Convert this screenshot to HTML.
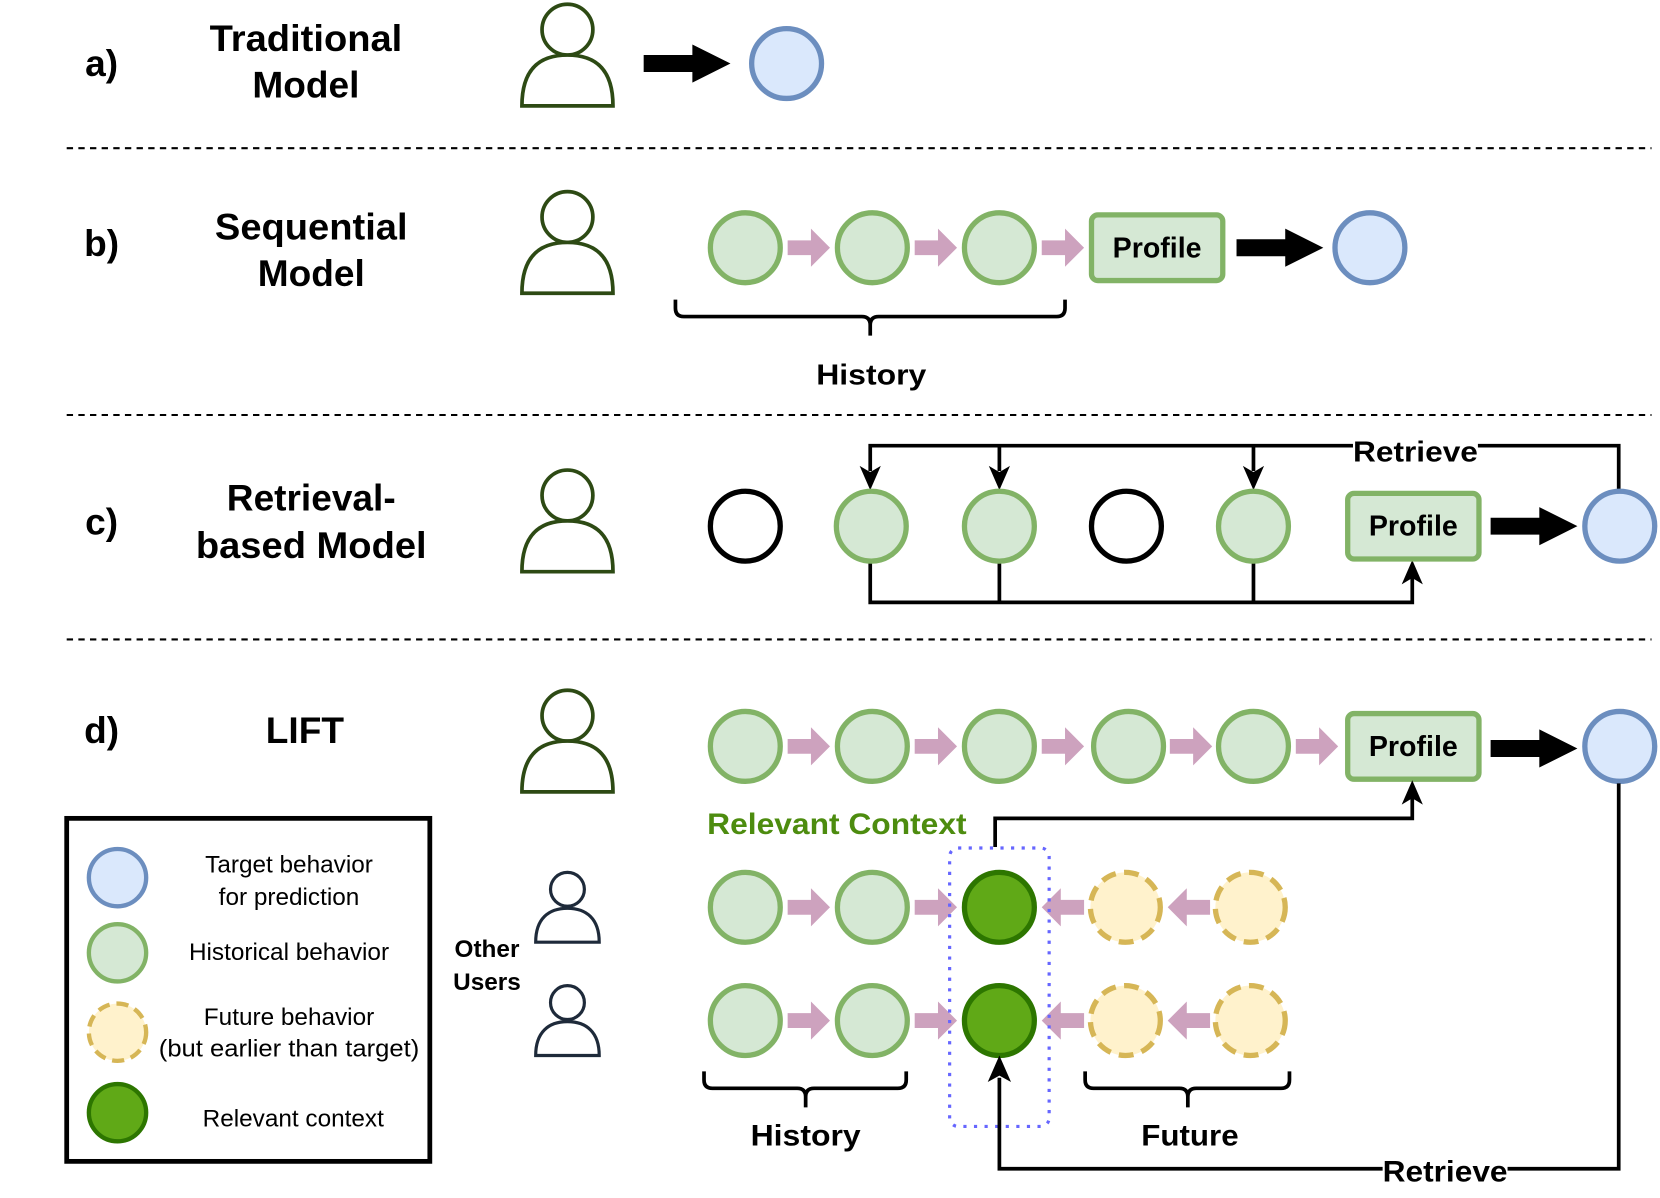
<!DOCTYPE html>
<html><head><meta charset="utf-8"><style>
html,body{margin:0;padding:0;background:#fff;}
svg{display:block;}
text{font-family:"Liberation Sans",Arial,sans-serif;}
</style></head><body>
<svg width="1660" height="1198" viewBox="0 0 1568 1131.6" preserveAspectRatio="none" xmlns="http://www.w3.org/2000/svg">
<defs>
<g id="pk"><path d="M0,-7 H22 V-18 L40,0 L22,18 V7 H0 Z" fill="#cda2be"/></g>
<g id="pkl"><path d="M40,-7 H18 V-18 L0,0 L18,18 V7 H40 Z" fill="#cda2be"/></g>
<g id="bk"><path d="M0,-8 H46 V-18 L82,0 L46,18 V8 H0 Z" fill="#000"/></g>
<g id="gc"><circle r="33" fill="#d5e8d4" stroke="#82b366" stroke-width="5"/></g>
<g id="bc"><circle r="33" fill="#dae8fc" stroke="#6c8ebf" stroke-width="5"/></g>
<g id="dc"><circle r="33" fill="#60a917" stroke="#2d7600" stroke-width="5"/></g>
<g id="yc"><circle r="33" fill="#fff2cc" stroke="#d6b656" stroke-width="5" stroke-dasharray="14,8"/></g>
<g id="kc"><circle r="33" fill="#fff" stroke="#000" stroke-width="5"/></g>
<g id="person"><circle cx="0" cy="-44" r="24" fill="#fff" stroke="#2d4a14" stroke-width="3.5"/><path d="M-43,28 C-43,-8 -25,-20 0,-20 C25,-20 43,-8 43,28 Z" fill="#fff" stroke="#2d4a14" stroke-width="3.5"/></g>
<g id="sperson"><circle cx="0" cy="-34" r="16" fill="#fff" stroke="#1e2a3a" stroke-width="3"/><path d="M-30,16 C-30,-6 -18,-16 0,-16 C18,-16 30,-6 30,16 Z" fill="#fff" stroke="#1e2a3a" stroke-width="3"/></g>
<g id="prof"><rect x="0" y="0" width="124" height="62" rx="6" fill="#d5e8d4" stroke="#82b366" stroke-width="5"/><text x="62" y="40" text-anchor="middle" font-size="27" font-weight="bold">Profile</text></g>
</defs>

<g stroke="#000" stroke-width="2" stroke-dasharray="6,5">
<line x1="63" y1="140" x2="1560" y2="140"/>
<line x1="63" y1="392" x2="1560" y2="392"/>
<line x1="63" y1="604" x2="1560" y2="604"/>
</g>

<g font-size="35" font-weight="bold" text-anchor="middle">
<text x="96" y="72">a)</text>
<text x="289" y="48" textLength="182" lengthAdjust="spacingAndGlyphs">Traditional</text><text x="289" y="92">Model</text>
<text x="96" y="242">b)</text>
<text x="294" y="226" textLength="182" lengthAdjust="spacingAndGlyphs">Sequential</text><text x="294" y="270">Model</text>
<text x="96" y="505">c)</text>
<text x="294" y="482">Retrieval-</text><text x="294" y="527" textLength="218" lengthAdjust="spacingAndGlyphs">based Model</text>
<text x="96" y="702">d)</text>
<text x="288" y="702">LIFT</text>
</g>

<use href="#person" x="536" y="72"/>
<use href="#person" x="536" y="249"/>
<use href="#person" x="536" y="512"/>
<use href="#person" x="536" y="720"/>
<use href="#sperson" x="536" y="874"/>
<use href="#sperson" x="536" y="981"/>

<use href="#bk" x="608" y="60"/>
<use href="#bc" x="743" y="60"/>

<use href="#gc" x="704" y="234"/><use href="#pk" x="744" y="234"/>
<use href="#gc" x="824" y="234"/><use href="#pk" x="864" y="234"/>
<use href="#gc" x="944" y="234"/><use href="#pk" x="984" y="234"/>
<use href="#prof" x="1031" y="203"/>
<use href="#bk" x="1168" y="234"/>
<use href="#bc" x="1294" y="234"/>
<path d="M638,283 v8 q0,8 8,8 H814 q8,0 8,8 v10 M822,307 q0,-8 8,-8 H998 q8,0 8,-8 v-8" fill="none" stroke="#000" stroke-width="3.5"/>
<text x="823" y="363" font-size="27" font-weight="bold" text-anchor="middle" textLength="104" lengthAdjust="spacingAndGlyphs">History</text>

<g fill="none" stroke="#000" stroke-width="3.5">
<path d="M822,445 V421 H1529 V463"/>
<line x1="944" y1="421" x2="944" y2="445"/>
<line x1="1184" y1="421" x2="1184" y2="445"/>
<path d="M822,530 V569 H1334 V546"/>
<line x1="944" y1="530" x2="944" y2="569"/>
<line x1="1184" y1="530" x2="1184" y2="569"/>
</g>
<g fill="#000">
<path d="M812,440 L822,463 L832,440 L822,446 Z"/>
<path d="M934,440 L944,463 L954,440 L944,446 Z"/>
<path d="M1174,440 L1184,463 L1194,440 L1184,446 Z"/>
<path d="M1324,552 L1334,529 L1344,552 L1334,546 Z"/>
</g>
<rect x="1278" y="410" width="118" height="26" fill="#fff"/>
<text x="1337" y="436" font-size="27" font-weight="bold" text-anchor="middle" textLength="118" lengthAdjust="spacingAndGlyphs">Retrieve</text>
<use href="#kc" x="704" y="497"/>
<use href="#gc" x="823" y="497"/>
<use href="#gc" x="944" y="497"/>
<use href="#kc" x="1064" y="497"/>
<use href="#gc" x="1184" y="497"/>
<use href="#prof" x="1273" y="466"/>
<use href="#bk" x="1408" y="497"/>
<use href="#bc" x="1530" y="497"/>

<use href="#gc" x="704" y="705"/><use href="#pk" x="744" y="705"/>
<use href="#gc" x="824" y="705"/><use href="#pk" x="864" y="705"/>
<use href="#gc" x="944" y="705"/><use href="#pk" x="984" y="705"/>
<use href="#gc" x="1066" y="705"/><use href="#pk" x="1105" y="705"/>
<use href="#gc" x="1184" y="705"/><use href="#pk" x="1224" y="705"/>
<use href="#prof" x="1273" y="674"/>
<use href="#bk" x="1408" y="707"/>
<use href="#bc" x="1530" y="705"/>

<text x="668" y="788" font-size="28" font-weight="bold" fill="#4d8c0f" textLength="245" lengthAdjust="spacingAndGlyphs">Relevant Context</text>
<path d="M940,800 V773 H1334 V752" fill="none" stroke="#000" stroke-width="3.5"/>
<path d="M1324,760 L1334,737 L1344,760 L1334,754 Z" fill="#000"/>

<use href="#gc" x="704" y="857"/><use href="#pk" x="744" y="857"/>
<use href="#gc" x="824" y="857"/><use href="#pk" x="864" y="857"/>
<use href="#dc" x="944" y="857"/><use href="#pkl" x="984" y="857"/>
<use href="#yc" x="1063" y="857"/><use href="#pkl" x="1103" y="857"/>
<use href="#yc" x="1181" y="857"/>

<use href="#gc" x="704" y="964"/><use href="#pk" x="744" y="964"/>
<use href="#gc" x="824" y="964"/><use href="#pk" x="864" y="964"/>
<use href="#dc" x="944" y="964"/><use href="#pkl" x="984" y="964"/>
<use href="#yc" x="1063" y="964"/><use href="#pkl" x="1103" y="964"/>
<use href="#yc" x="1181" y="964"/>

<rect x="897" y="801" width="94" height="263" rx="8" fill="none" stroke="#6666ff" stroke-width="3" stroke-dasharray="3,7"/>

<path d="M665,1012 v8 q0,8 8,8 H753 q8,0 8,8 v10 M761,1036 q0,-8 8,-8 H848 q8,0 8,-8 v-8" fill="none" stroke="#000" stroke-width="3.5"/>
<path d="M1025,1012 v8 q0,8 8,8 H1114 q8,0 8,8 v10 M1122,1036 q0,-8 8,-8 H1210 q8,0 8,-8 v-8" fill="none" stroke="#000" stroke-width="3.5"/>
<text x="761" y="1082" font-size="28" font-weight="bold" text-anchor="middle" textLength="104" lengthAdjust="spacingAndGlyphs">History</text>
<text x="1124" y="1082" font-size="28" font-weight="bold" text-anchor="middle" textLength="92" lengthAdjust="spacingAndGlyphs">Future</text>

<path d="M1529,740 V1104 H944 V1018" fill="none" stroke="#000" stroke-width="3.5"/>
<path d="M933,1022 L944,997 L955,1022 L944,1016 Z" fill="#000"/>
<rect x="1306" y="1093" width="118" height="28" fill="#fff"/>
<text x="1365" y="1116" font-size="28" font-weight="bold" text-anchor="middle" textLength="118" lengthAdjust="spacingAndGlyphs">Retrieve</text>

<text x="460" y="904" font-size="23" font-weight="bold" text-anchor="middle">Other</text>
<text x="460" y="935" font-size="23" font-weight="bold" text-anchor="middle">Users</text>

<rect x="63" y="773" width="343" height="324" fill="none" stroke="#000" stroke-width="4.5"/>
<g transform="translate(111,829) scale(0.82)"><use href="#bc"/></g>
<g transform="translate(111,900) scale(0.82)"><use href="#gc"/></g>
<g transform="translate(111,975) scale(0.82)"><use href="#yc"/></g>
<g transform="translate(111,1051) scale(0.82)"><use href="#dc"/></g>
<g font-size="23" text-anchor="middle">
<text x="273" y="824">Target behavior</text>
<text x="273" y="855">for prediction</text>
<text x="273" y="907">Historical behavior</text>
<text x="273" y="968">Future behavior</text>
<text x="273" y="998" textLength="246" lengthAdjust="spacingAndGlyphs">(but earlier than target)</text>
<text x="277" y="1064">Relevant context</text>
</g>
</svg>
</body></html>
